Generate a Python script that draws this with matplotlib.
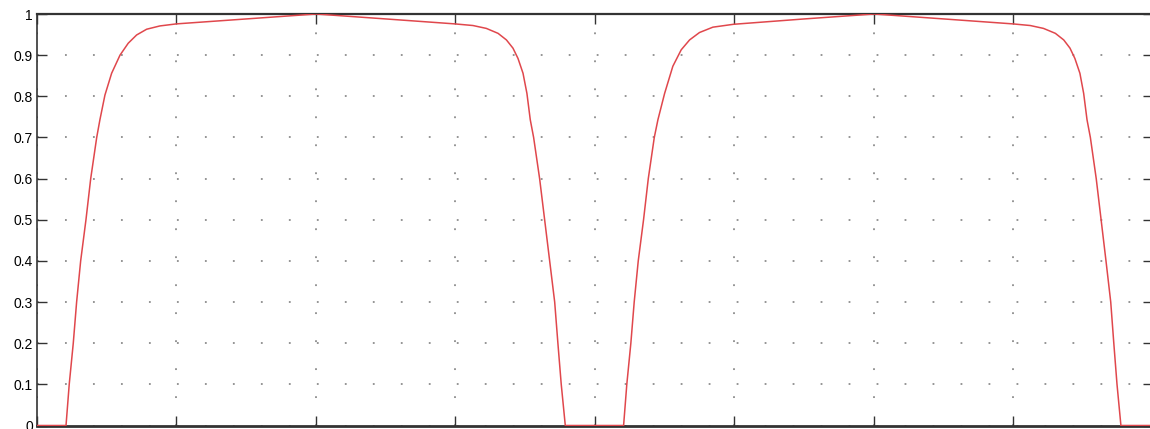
import numpy as np
import matplotlib
matplotlib.use("Agg")
import matplotlib.pyplot as plt

# values, first period
t1 = [0.0, 0.208, 0.231, 0.260, 0.284, 0.313, 0.351, 0.385, 0.428, 0.451,
      0.487, 0.535, 0.595, 0.654, 0.714, 0.786, 0.881, 1.0, 1.5, 2.0,
      2.5, 2.994, 3.125, 3.221, 3.305, 3.365, 3.412, 3.448, 3.484, 3.512,
      3.536, 3.560, 3.603, 3.639, 3.675, 3.711, 3.734, 3.758, 3.787, 4.205]
y1 = [0.0, 0.0, 0.1, 0.2, 0.3, 0.4, 0.5, 0.6, 0.7, 0.743,
      0.803, 0.856, 0.900, 0.929, 0.949, 0.963, 0.971, 0.976, 0.988, 1.0,
      0.988, 0.976, 0.972, 0.965, 0.953, 0.937, 0.917, 0.892, 0.856, 0.807,
      0.743, 0.7, 0.6, 0.5, 0.4, 0.3, 0.2, 0.1, 0.0, 0.0]

# second period
t2 = [4.205, 4.228, 4.257, 4.281, 4.310, 4.348, 4.382, 4.425, 4.451,
      4.499, 4.558, 4.618, 4.678, 4.749, 4.845, 4.993, 5.5, 6.0,
      6.5, 6.994, 7.120, 7.215, 7.300, 7.360, 7.405, 7.440, 7.476, 7.503,
      7.527, 7.551, 7.593, 7.628, 7.663, 7.697, 7.719, 7.742, 7.770, 8.0]
y2 = [0.0, 0.1, 0.2, 0.3, 0.4, 0.5, 0.6, 0.7, 0.743,
      0.807, 0.873, 0.913, 0.937, 0.955, 0.968, 0.975, 0.988, 1.0,
      0.988, 0.976, 0.972, 0.965, 0.953, 0.937, 0.917, 0.892, 0.856, 0.807,
      0.743, 0.7, 0.6, 0.5, 0.4, 0.3, 0.2, 0.1, 0.0, 0.0]

yticks = np.round(np.arange(0, 1.01, 0.1), 1)
ytick_labels = ["0"] + [f"{v:.1f}" for v in yticks[1:-1]] + ["1"]
xticks = list(range(0, 9))

fig = plt.figure(figsize=(11.5, 4.29), dpi=100)
ax = fig.add_axes([37 / 1150, 3.5 / 429, 1116 / 1150, 411.5 / 429])

ax.plot(t1 + t2, y1 + y2, color="#e0474c", lw=1.1, zorder=3)

ax.set_xlim(0, 8)
ax.set_ylim(0, 1)
ax.set_xticks(xticks)
ax.set_xticklabels([])
ax.set_yticks(yticks)
ax.set_yticklabels(ytick_labels, fontsize=10, family="Liberation Sans")

ax.tick_params(direction="in", length=7, width=1, color="#333333",
               top=True, right=True, pad=3)
# dotted grid, ~28 px between dots
ax.grid(True, color="#8c8c8c", lw=1.3, linestyle=(0, (1, 14.5)))

for s in ax.spines.values():
    s.set_color("#333333")
    s.set_linewidth(1.2)
ax.spines["bottom"].set_linewidth(2)
ax.spines["top"].set_linewidth(1.6)

fig.savefig("out.png", dpi=100)
